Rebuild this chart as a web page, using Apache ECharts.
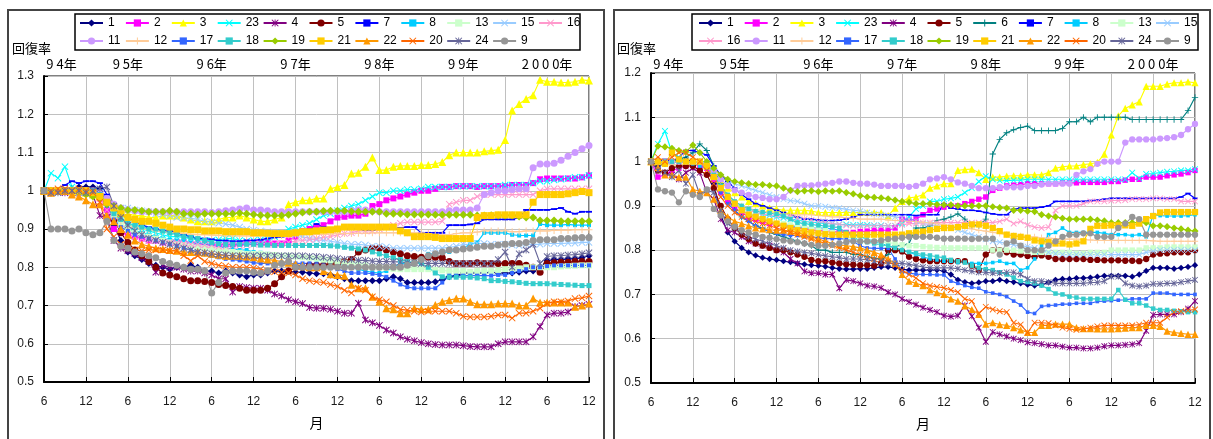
<!DOCTYPE html>
<html>
<head>
<meta charset="utf-8">
<script src="https://cdn.jsdelivr.net/npm/echarts@6/dist/echarts.min.js"></script>
<style>
html,body{margin:0;padding:0;background:#fff;}
#c{width:1213px;height:439px;}
</style>
</head>
<body>
<div id="c"></div>
<script>
// Tick labels
const monthTicks = ['6','12','6','12','6','12','6','12','6','12','6','12','6','12'];
const yTicksLeft = ['0.5','0.6','0.7','0.8','0.9','1','1.1','1.2','1.3'];
const yTicksRight = ['0.5','0.6','0.7','0.8','0.9','1','1.1','1.2'];
const yearLabels = ['9 4年','9 5年','9 6年','9 7年','9 8年','9 9年','2 0 0 0年'];
const yearAt = [2.5, 12, 24, 36, 48, 60, 72];   // month index under each year label

// Legend rows
const leftRow1 = ['1','2','3','23','4','5','7','8','13','15','16'];
const leftRow2 = ['11','12','17','18','19','21','22','20','24','9'];
const rightRow1 = ['1','2','3','23','4','5','6','7','8','13','15'];
const rightRow2 = ['16','11','12','17','18','19','21','22','20','24','9'];

// ---- left panel: monthly recovery ratios, Jun 1994 .. Dec 2000 (79 months) ----
const L_1 = [1,.995,1,1,1.005,1.01,1.01,
 1.01,1.005,.97,.91,.87,.84,.83,.82,.81,.805,.80,.795,
 .80,.80,.805,.80,.79,.79,.785,.79,.785,.78,.775,.78,
 .78,.785,.79,.79,.79,.787,.787,.785,.783,.783,.78,.775,
 .77,.765,.765,.765,.765,.765,.77,.775,.77,.76,.76,.76,
 .76,.762,.768,.775,.778,.785,.785,.785,.785,.787,.785,.785,
 .785,.787,.79,.79,.80,.817,.82,.82,.822,.822,.825,.83];
const L_2 = [1,1,1,1,1,.995,1,
 .995,.98,.95,.90,.89,.885,.88,.875,.87,.87,.865,.865,
 .865,.865,.86,.86,.86,.858,.858,.86,.86,.862,.865,.865,
 .865,.865,.862,.862,.87,.88,.895,.90,.905,.91,.92,.93,
 .932,.935,.935,.94,.96,.965,.975,.98,.985,.99,.995,1.0,
 1.0,1.005,1.01,1.01,1.012,1.012,1.012,1.01,1.012,1.012,1.012,1.012,
 1.015,1.015,1.015,1.02,1.03,1.032,1.032,1.032,1.032,1.032,1.035,1.04];
const L_3 = [1,1,1,1,1,1,.995,
 .99,.985,.975,.96,.95,.94,.935,.935,.93,.93,.935,.935,
 .935,.93,.925,.92,.92,.92,.925,.93,.93,.935,.93,.925,
 .92,.92,.925,.93,.965,.97,.975,.975,.98,.98,1.005,1.01,
 1.015,1.045,1.047,1.063,1.087,1.054,1.054,1.063,1.065,1.065,1.065,1.067,
 1.067,1.07,1.075,1.093,1.1,1.1,1.1,1.1,1.103,1.105,1.107,1.133,
 1.21,1.227,1.24,1.25,1.29,1.285,1.285,1.283,1.283,1.285,1.29,1.288];
const L_23 = [1,1.046,1.033,1.063,1.01,1.0,1.0,
 1.0,.995,.97,.95,.93,.915,.905,.90,.895,.89,.885,.88,
 .88,.878,.875,.872,.87,.87,.872,.875,.875,.87,.868,.87,
 .872,.875,.88,.89,.90,.905,.91,.915,.925,.935,.94,.948,
 .955,.96,.965,.975,.985,.995,.995,1.0,1.0,1.003,1.003,1.005,
 1.01,1.01,1.01,1.01,1.012,1.012,1.012,1.012,1.012,1.012,1.012,1.015,
 1.015,1.015,1.015,1.02,1.025,1.025,1.028,1.03,1.032,1.035,1.035,1.04];
const L_4 = [1,.995,1,.995,1,.995,1,
 .99,.935,.93,.87,.85,.843,.835,.825,.815,.787,.805,.80,
 .80,.795,.79,.79,.785,.78,.77,.77,.735,.75,.747,.745,
 .745,.74,.73,.725,.715,.71,.705,.695,.693,.693,.69,.685,
 .68,.68,.706,.662,.655,.648,.636,.628,.618,.612,.608,.603,
 .60,.598,.597,.597,.597,.595,.593,.592,.592,.592,.60,.605,
 .605,.605,.605,.618,.645,.675,.68,.68,.683,.697,.70,.703];
const L_5 = [1,1,1,1,1,1,1,
 1.0,.99,.97,.925,.89,.865,.845,.83,.815,.80,.785,.78,
 .775,.77,.765,.765,.763,.76,.755,.752,.75,.745,.74,.74,
 .74,.745,.757,.775,.79,.80,.80,.805,.805,.805,.81,.81,
 .815,.82,.84,.845,.85,.85,.845,.84,.835,.83,.828,.826,
 .826,.826,.825,.815,.81,.81,.81,.812,.81,.81,.81,.81,
 .81,.81,.805,.80,.787,.81,.812,.813,.813,.815,.815,.815];
const L_7 = [1,1.0,1.005,1.015,1.025,1.02,1.025,
 1.025,1.02,.99,.955,.935,.93,.92,.91,.905,.90,.895,.895,
 .89,.885,.88,.875,.875,.873,.87,.87,.868,.868,.87,.87,
 .872,.875,.878,.88,.883,.885,.887,.90,.913,.905,.90,.90,
 .90,.90,.90,.898,.898,.90,.90,.90,.903,.905,.905,.89,
 .89,.89,.89,.91,.91,.91,.912,.915,.925,.925,.925,.925,
 .925,.93,.95,.95,.95,.95,.952,.955,.945,.94,.945,.945];
const L_8 = [1,1,1,1,1,1,.995,
 .99,.985,.96,.93,.91,.90,.895,.89,.885,.88,.875,.872,
 .87,.868,.865,.862,.86,.858,.855,.85,.848,.845,.845,.84,
 .838,.835,.832,.83,.83,.828,.826,.824,.82,.818,.815,.81,
 .805,.80,.795,.79,.787,.785,.79,.80,.81,.81,.805,.82,
 .835,.835,.838,.84,.845,.85,.86,.865,.89,.89,.89,.89,
 .885,.883,.883,.883,.913,.91,.91,.91,.912,.91,.91,.91];
const L_13 = [1,1,1,1,1,1,1,
 .995,.99,.965,.935,.91,.90,.89,.885,.88,.875,.87,.865,
 .86,.858,.855,.852,.85,.848,.845,.843,.84,.838,.835,.835,
 .835,.833,.832,.83,.83,.828,.826,.825,.823,.82,.818,.815,
 .812,.81,.808,.805,.80,.80,.798,.796,.795,.795,.795,.795,
 .795,.793,.792,.79,.79,.79,.788,.79,.79,.79,.792,.795,
 .795,.797,.80,.80,.80,.80,.80,.802,.803,.804,.805,.805];
const L_15 = [1,1,1,1,1,.995,.995,
 .99,.985,.97,.96,.955,.955,.95,.948,.945,.94,.938,.935,
 .93,.93,.928,.925,.92,.918,.915,.913,.91,.905,.90,.897,
 .895,.893,.89,.89,.888,.885,.88,.875,.872,.87,.868,.865,
 .862,.86,.86,.858,.855,.855,.853,.85,.85,.85,.85,.85,
 .85,.85,.85,.852,.855,.86,.86,.862,.862,.86,.86,.86,
 .858,.857,.86,.86,.86,.862,.862,.862,.863,.863,.865,.865];
const L_16 = [1,1,1,1,1,1,.995,
 .99,.98,.95,.92,.90,.885,.88,.875,.87,.87,.865,.865,
 .865,.862,.86,.86,.858,.858,.855,.855,.856,.857,.858,.86,
 .86,.86,.86,.862,.865,.868,.87,.872,.875,.878,.88,.885,
 .888,.89,.895,.895,.895,.90,.905,.91,.915,.918,.918,.918,
 .918,.918,.92,.965,.97,.975,.975,.985,.99,.99,.99,.99,
 .99,.99,.99,.99,1.0,1.005,1.005,1.005,1.005,1.005,1.005,1.005];
const L_11 = [1,1,1,1,1,1,1,
 1.0,.995,.98,.965,.955,.95,.948,.945,.945,.945,.945,.945,
 .945,.945,.945,.945,.945,.943,.945,.948,.95,.952,.955,.95,
 .95,.948,.945,.945,.945,.945,.945,.945,.945,.945,.945,.945,
 .945,.948,.95,.95,.948,.945,.945,.945,.945,.945,.945,.945,
 .945,.945,.945,.948,.95,.95,.95,.955,.99,.995,1.0,1.0,
 1.003,1.005,1.005,1.06,1.07,1.07,1.072,1.08,1.09,1.1,1.11,1.118];
const L_12 = [1,1,1,1,1,1,1,
 .995,.99,.97,.94,.92,.91,.905,.90,.898,.895,.893,.89,
 .89,.888,.886,.885,.885,.884,.883,.882,.882,.882,.882,.882,
 .882,.882,.882,.883,.884,.885,.885,.885,.886,.886,.887,.888,
 .888,.888,.889,.889,.89,.89,.89,.89,.89,.89,.89,.89,
 .888,.886,.885,.885,.888,.89,.89,.892,.895,.895,.895,.895,
 .893,.893,.895,.895,.895,.895,.896,.897,.897,.898,.898,.898];
const L_17 = [1,1,1,1,1,1,1,
 1.0,.99,.96,.925,.905,.895,.885,.88,.875,.87,.865,.86,
 .855,.85,.845,.84,.835,.83,.826,.822,.82,.818,.815,.812,
 .81,.81,.808,.808,.808,.81,.81,.81,.808,.805,.80,.795,
 .79,.785,.785,.785,.783,.78,.775,.765,.755,.748,.745,.745,
 .745,.745,.76,.778,.778,.778,.778,.778,.778,.778,.78,.78,
 .785,.79,.795,.80,.80,.803,.805,.805,.805,.805,.805,.805];
const L_18 = [1,1,1,1,1,1,1,
 1.0,.99,.97,.94,.925,.915,.91,.905,.90,.90,.895,.89,
 .885,.88,.878,.875,.87,.865,.862,.86,.86,.86,.86,.86,
 .858,.858,.857,.857,.857,.857,.857,.857,.857,.857,.856,.855,
 .852,.85,.848,.845,.84,.835,.83,.825,.82,.815,.813,.81,
 .80,.785,.775,.774,.774,.774,.774,.772,.77,.765,.765,.763,
 .762,.76,.758,.757,.757,.757,.756,.755,.754,.753,.752,.752];
const L_19 = [1,1,1,1,1,.995,.99,
 .985,.98,.965,.96,.955,.95,.95,.948,.945,.945,.945,.948,
 .945,.94,.94,.938,.94,.94,.94,.94,.94,.942,.94,.938,
 .936,.935,.935,.935,.937,.94,.943,.945,.945,.947,.948,.948,
 .948,.946,.945,.945,.945,.945,.94,.94,.94,.938,.938,.938,
 .938,.937,.937,.937,.937,.937,.937,.935,.935,.936,.935,.935,
 .935,.933,.93,.93,.922,.922,.922,.92,.92,.92,.92,.92];
const L_21 = [1,1,1,1,1,1,1,
 .995,.985,.97,.955,.94,.93,.925,.92,.92,.915,.91,.905,
 .90,.90,.898,.898,.895,.895,.895,.893,.893,.893,.893,.89,
 .89,.889,.888,.888,.888,.89,.893,.893,.895,.897,.898,.90,
 .905,.905,.905,.905,.905,.905,.905,.905,.895,.89,.88,.88,
 .88,.878,.875,.875,.875,.875,.875,.93,.935,.935,.937,.937,
 .937,.937,.937,.97,.99,.99,.99,.99,.992,.995,.998,.995];
const L_22 = [1,.995,1,1,.99,.985,.975,
 .965,.965,.935,.92,.90,.885,.87,.86,.855,.85,.848,.845,
 .843,.84,.84,.84,.838,.835,.833,.83,.83,.83,.828,.826,
 .823,.82,.818,.815,.812,.808,.804,.80,.80,.79,.782,.78,
 .778,.754,.745,.745,.723,.71,.693,.69,.68,.68,.693,.69,
 .69,.701,.71,.714,.718,.718,.71,.703,.703,.703,.705,.705,
 .705,.70,.70,.718,.708,.708,.708,.708,.708,.697,.70,.705];
const L_20 = [1,1.0,1.005,1.005,1.0,1.005,1.0,
 .995,.97,.90,.88,.86,.85,.845,.843,.845,.845,.845,.843,
 .843,.83,.817,.83,.815,.81,.805,.803,.80,.80,.80,.798,
 .795,.79,.788,.787,.785,.78,.77,.765,.762,.76,.755,.75,
 .74,.733,.745,.74,.723,.715,.71,.70,.69,.688,.685,.683,
 .685,.685,.685,.685,.68,.672,.67,.67,.67,.672,.675,.675,
 .667,.68,.68,.685,.693,.705,.71,.71,.712,.718,.72,.725];
const L_24 = [1,.995,.995,1,1,1,.995,
 1.0,1.005,1.01,.96,.93,.91,.895,.885,.875,.87,.865,.86,
 .855,.85,.845,.84,.838,.835,.833,.832,.83,.83,.83,.83,
 .83,.83,.83,.83,.83,.83,.83,.828,.828,.826,.825,.823,
 .82,.82,.818,.818,.816,.815,.815,.814,.814,.812,.812,.81,
 .81,.81,.81,.81,.81,.81,.81,.81,.81,.81,.82,.84,
 .80,.835,.845,.86,.81,.828,.83,.83,.832,.833,.835,.838];
const L_9 = [1,.90,.90,.90,.895,.90,.89,
 .885,.89,.92,.87,.855,.85,.84,.835,.83,.825,.815,.81,
 .805,.80,.795,.795,.79,.733,.76,.785,.79,.79,.79,.787,
 .785,.79,.805,.81,.815,.80,.80,.80,.80,.80,.80,.80,
 .80,.80,.80,.80,.80,.80,.80,.80,.80,.805,.81,.82,
 .83,.835,.84,.845,.845,.848,.85,.852,.855,.855,.858,.86,
 .862,.862,.865,.87,.872,.872,.872,.875,.875,.877,.878,.878];

// ---- right panel ----
const R_1 = [1,.99,.995,1.0,1.0,1.005,1.0,
 1.0,.99,.95,.88,.84,.82,.805,.795,.788,.783,.78,.778,
 .775,.773,.77,.768,.766,.765,.763,.76,.758,.757,.757,.758,
 .758,.76,.762,.762,.76,.757,.755,.755,.755,.755,.755,.753,
 .745,.733,.728,.725,.727,.73,.73,.733,.73,.728,.725,.722,
 .72,.722,.727,.733,.735,.735,.737,.737,.738,.74,.742,.742,
 .742,.742,.74,.745,.753,.76,.76,.76,.758,.76,.762,.766];
const R_2 = [1,.965,.97,.98,.985,.99,.995,
 .99,.985,.96,.93,.91,.895,.885,.875,.87,.865,.86,.858,
 .855,.852,.85,.848,.845,.845,.843,.842,.84,.84,.84,.842,
 .843,.845,.845,.845,.85,.87,.868,.87,.88,.89,.893,.897,
 .90,.90,.905,.91,.915,.92,.935,.94,.945,.947,.948,.95,
 .95,.95,.95,.95,.952,.952,.952,.953,.953,.953,.953,.955,
 .955,.958,.96,.96,.965,.965,.965,.968,.97,.972,.975,.98];
const R_3 = [1,1,1,1,1.0,1.0,1.0,
 1.0,.99,.97,.955,.94,.93,.92,.91,.905,.90,.895,.893,
 .89,.89,.89,.89,.888,.885,.885,.885,.885,.885,.885,.885,
 .885,.885,.885,.878,.895,.91,.918,.92,.925,.94,.945,.95,
 .95,.98,.982,.983,.975,.96,.965,.965,.967,.968,.968,.97,
 .97,.97,.975,.985,.988,.99,.99,.993,.995,.998,1.017,1.06,
 1.103,1.12,1.128,1.135,1.17,1.17,1.17,1.175,1.178,1.178,1.18,1.178];
const R_23 = [1,1.04,1.069,1.02,1.01,1.0,1.0,
 1.0,.995,.97,.94,.92,.905,.895,.89,.885,.88,.878,.875,
 .873,.87,.868,.865,.863,.862,.86,.86,.858,.858,.857,.857,
 .857,.856,.856,.855,.855,.86,.875,.893,.90,.91,.91,.915,
 .917,.92,.93,.94,.955,.967,.96,.957,.957,.958,.958,.96,
 .96,.96,.96,.96,.96,.96,.96,.96,.96,.96,.96,.96,
 .96,.96,.975,.962,.972,.973,.975,.977,.978,.98,.98,.983];
const R_4 = [1,.98,.975,.97,.96,.975,.985,
 .975,.93,.915,.87,.845,.84,.83,.82,.815,.81,.81,.80,
 .795,.78,.77,.752,.748,.748,.745,.745,.714,.733,.73,.725,
 .72,.718,.715,.705,.70,.69,.683,.677,.67,.665,.66,.652,
 .65,.652,.675,.651,.625,.593,.615,.61,.605,.60,.597,.592,
 .59,.588,.585,.585,.582,.58,.58,.578,.578,.58,.583,.585,
 .585,.586,.587,.59,.618,.654,.655,.655,.655,.66,.668,.685];
const R_5 = [1,.98,.975,.985,.99,.99,.99,
 .98,.97,.94,.90,.87,.85,.835,.825,.815,.81,.805,.80,
 .80,.795,.79,.785,.778,.775,.775,.772,.77,.768,.767,.766,
 .766,.765,.77,.80,.80,.797,.785,.78,.777,.775,.775,.775,
 .775,.775,.775,.765,.755,.79,.80,.80,.795,.79,.79,.787,
 .785,.788,.785,.78,.78,.78,.78,.78,.778,.778,.777,.777,
 .777,.776,.776,.775,.78,.79,.792,.793,.795,.795,.795,.80];
const R_6 = [1,1.0,.995,1.0,1.005,1.01,1.02,
 1.04,1.025,.99,.95,.92,.89,.875,.865,.855,.85,.84,.835,
 .83,.825,.82,.815,.81,.80,.80,.795,.795,.795,.79,.79,
 .785,.782,.78,.79,.81,.81,.815,.85,.85,.855,.867,.87,
 .875,.882,.87,.855,.855,.87,1.017,1.05,1.065,1.072,1.077,1.08,
 1.07,1.07,1.07,1.07,1.075,1.09,1.09,1.1,1.09,1.1,1.1,1.1,
 1.1,1.1,1.095,1.095,1.095,1.095,1.095,1.095,1.095,1.095,1.115,1.145];
const R_7 = [1,1.0,1.005,1.0,1.01,1.025,1.025,
 1.02,1.015,.99,.97,.955,.94,.925,.915,.905,.90,.895,.89,
 .885,.88,.875,.87,.87,.868,.867,.867,.868,.87,.875,.88,
 .88,.88,.88,.88,.88,.88,.88,.878,.88,.88,.88,.905,
 .895,.893,.89,.89,.888,.885,.882,.88,.88,.892,.895,.895,
 .895,.897,.90,.91,.91,.91,.91,.91,.912,.913,.915,.917,
 .917,.917,.917,.917,.917,.917,.917,.917,.917,.92,.928,.917];
const R_8 = [1,1,1,1,1,1,.995,
 .99,.985,.965,.94,.92,.905,.895,.885,.875,.87,.865,.86,
 .858,.855,.852,.85,.85,.85,.85,.848,.845,.84,.835,.83,
 .825,.82,.815,.81,.805,.80,.795,.79,.785,.78,.778,.775,
 .775,.772,.772,.77,.77,.77,.772,.775,.77,.77,.755,.76,
 .78,.81,.835,.84,.85,.84,.84,.84,.84,.84,.838,.835,
 .835,.835,.833,.835,.83,.88,.878,.877,.877,.877,.878,.88];
const R_13 = [1,1,1,1,1,1,1,
 1.0,.99,.97,.94,.92,.905,.895,.885,.878,.87,.865,.86,
 .86,.857,.855,.853,.85,.848,.845,.84,.835,.83,.825,.82,
 .82,.82,.818,.817,.815,.812,.81,.81,.808,.807,.806,.805,
 .805,.805,.805,.805,.805,.805,.80,.80,.80,.80,.798,.797,
 .795,.795,.795,.795,.795,.795,.793,.793,.795,.795,.795,.80,
 .80,.80,.80,.80,.805,.805,.805,.807,.807,.807,.807,.807];
const R_15 = [1,1,1,1,1,1,1,
 1.0,.995,.98,.965,.955,.95,.945,.94,.935,.93,.925,.92,
 .915,.912,.91,.905,.90,.90,.898,.896,.895,.892,.89,.888,
 .885,.882,.88,.878,.875,.873,.87,.865,.86,.858,.855,.852,
 .85,.845,.84,.835,.83,.825,.82,.818,.815,.812,.81,.808,
 .805,.80,.795,.792,.79,.79,.79,.79,.79,.79,.79,.79,
 .79,.79,.79,.79,.795,.797,.80,.80,.80,.80,.80,.80];
const R_16 = [1,1,1,1,1,1,1,
 1.0,.99,.97,.94,.92,.905,.895,.89,.885,.882,.88,.878,
 .876,.875,.872,.87,.868,.865,.862,.86,.858,.856,.855,.855,
 .855,.855,.855,.855,.855,.857,.86,.86,.862,.862,.862,.862,
 .862,.862,.862,.862,.862,.862,.862,.865,.87,.86,.865,.857,
 .852,.85,.852,.89,.90,.90,.90,.905,.91,.91,.91,.912,
 .912,.913,.915,.915,.915,.917,.917,.915,.915,.91,.91,.91];
const R_11 = [1,1,1,1,1,1,1,
 1.0,.995,.98,.96,.945,.935,.93,.925,.92,.918,.915,.915,
 .92,.935,.945,.946,.946,.948,.95,.952,.955,.955,.952,.95,
 .95,.948,.945,.945,.945,.945,.943,.945,.95,.96,.962,.965,
 .96,.953,.95,.945,.94,.94,.94,.942,.942,.942,.942,.945,
 .945,.948,.95,.95,.95,.95,.97,.978,.983,.995,1.0,1.0,
 1.0,1.043,1.05,1.05,1.05,1.05,1.052,1.053,1.055,1.06,1.073,1.085];
const R_12 = [1,1,1,1,1,1,1,
 1.0,.99,.97,.945,.925,.91,.90,.895,.89,.887,.885,.883,
 .882,.88,.88,.88,.88,.878,.877,.875,.875,.873,.872,.87,
 .87,.87,.87,.868,.867,.866,.865,.865,.863,.862,.86,.858,
 .855,.852,.85,.848,.845,.843,.84,.838,.835,.833,.832,.83,
 .83,.828,.827,.826,.825,.825,.825,.824,.823,.822,.822,.822,
 .822,.822,.822,.822,.822,.821,.82,.82,.82,.82,.82,.82];
const R_17 = [1,1,1,1,1,1,1,
 1.0,.99,.965,.93,.905,.89,.875,.865,.855,.848,.842,.838,
 .835,.833,.833,.83,.83,.828,.826,.826,.826,.825,.82,.81,
 .805,.804,.804,.804,.78,.75,.748,.746,.745,.745,.744,.744,
 .73,.725,.72,.716,.714,.706,.703,.70,.695,.685,.676,.66,
 .657,.673,.675,.676,.678,.678,.68,.68,.68,.684,.685,.686,
 .687,.688,.69,.69,.69,.703,.703,.703,.70,.70,.70,.70];
const R_18 = [1,1,1,1,1,1,1,
 1.0,.99,.97,.945,.925,.91,.90,.893,.888,.886,.884,.882,
 .878,.87,.862,.86,.858,.856,.855,.853,.85,.84,.83,.82,
 .818,.815,.812,.81,.805,.80,.796,.793,.79,.788,.785,.783,
 .778,.775,.772,.765,.76,.757,.755,.75,.745,.738,.73,.728,
 .725,.72,.712,.702,.70,.695,.693,.69,.69,.69,.69,.69,
 .71,.688,.68,.68,.675,.668,.665,.665,.663,.662,.66,.66];
const R_19 = [1,1.035,1.033,1.03,1.025,1.022,1.037,
 1.02,1.0,.985,.97,.96,.955,.952,.95,.948,.948,.946,.945,
 .94,.935,.932,.934,.934,.932,.934,.933,.934,.93,.927,.923,
 .92,.919,.918,.916,.913,.91,.908,.905,.905,.905,.903,.902,
 .902,.90,.90,.90,.90,.90,.898,.896,.895,.89,.89,.888,
 .887,.88,.877,.875,.872,.87,.87,.87,.87,.868,.866,.862,
 .862,.862,.862,.862,.862,.855,.855,.853,.85,.848,.845,.843];
const R_21 = [1,1,.995,1.02,1.005,1.0,1.0,
 1.0,.99,.965,.94,.92,.905,.89,.88,.875,.87,.865,.86,
 .855,.85,.845,.843,.84,.838,.836,.835,.835,.835,.835,.835,
 .835,.835,.835,.835,.835,.835,.838,.84,.842,.845,.848,.85,
 .85,.852,.855,.858,.858,.855,.85,.843,.835,.832,.83,.828,
 .822,.82,.818,.815,.815,.813,.815,.82,.848,.855,.855,.856,
 .856,.856,.855,.86,.87,.877,.885,.886,.886,.886,.886,.886];
const R_22 = [1,.987,.97,.97,.965,.965,.937,
 .933,.93,.915,.89,.875,.865,.86,.855,.85,.848,.846,.845,
 .845,.843,.84,.835,.83,.825,.82,.815,.812,.81,.808,.805,
 .80,.795,.79,.78,.77,.745,.73,.725,.72,.71,.704,.70,
 .69,.685,.674,.666,.655,.633,.636,.632,.63,.625,.62,.614,
 .614,.63,.63,.633,.633,.633,.625,.623,.623,.622,.622,.622,
 .623,.624,.625,.625,.63,.63,.628,.617,.614,.612,.61,.61];
const R_20 = [1,1.01,1.0,1.01,1.02,1.02,1.01,
 1.0,.98,.95,.92,.90,.885,.875,.87,.865,.86,.855,.85,
 .845,.84,.835,.83,.825,.82,.815,.81,.805,.80,.795,.79,
 .785,.78,.78,.775,.765,.755,.745,.737,.725,.72,.717,.715,
 .71,.705,.69,.685,.657,.672,.666,.662,.66,.636,.632,.614,
 .636,.636,.635,.63,.625,.622,.62,.622,.625,.628,.63,.63,
 .63,.63,.63,.632,.636,.636,.636,.648,.66,.662,.664,.666];
const R_24 = [1,.98,.975,.965,.98,.95,.97,
 .925,.935,.93,.89,.86,.85,.84,.83,.825,.82,.815,.81,
 .805,.80,.797,.795,.793,.79,.787,.785,.783,.78,.78,.78,
 .778,.775,.773,.77,.77,.77,.768,.765,.762,.76,.76,.76,
 .76,.758,.755,.752,.75,.75,.748,.748,.75,.75,.745,.735,
 .73,.73,.728,.725,.725,.725,.725,.725,.727,.727,.73,.74,
 .74,.725,.72,.718,.72,.724,.724,.725,.725,.728,.73,.733];
const R_9 = [1,.937,.933,.93,.908,.933,.925,
 .92,.937,.893,.878,.865,.853,.845,.84,.835,.83,.828,.825,
 .822,.82,.818,.815,.812,.81,.81,.812,.815,.818,.82,.82,
 .82,.82,.822,.825,.826,.828,.83,.83,.83,.83,.828,.826,
 .826,.826,.826,.825,.826,.826,.826,.79,.815,.82,.81,.80,
 .80,.80,.81,.82,.83,.835,.835,.838,.838,.83,.83,.83,
 .85,.86,.875,.87,.835,.835,.835,.835,.835,.835,.835,.835];

// Series lists in drawing / legend order
const leftSeries = [['1',L_1],['2',L_2],['3',L_3],['23',L_23],['4',L_4],['5',L_5],['7',L_7],['8',L_8],
  ['13',L_13],['15',L_15],['16',L_16],['11',L_11],['12',L_12],['17',L_17],['18',L_18],['19',L_19],
  ['21',L_21],['22',L_22],['20',L_20],['24',L_24],['9',L_9]];
const rightSeries = [['1',R_1],['2',R_2],['3',R_3],['23',R_23],['4',R_4],['5',R_5],['6',R_6],['7',R_7],['8',R_8],
  ['13',R_13],['15',R_15],['16',R_16],['11',R_11],['12',R_12],['17',R_17],['18',R_18],['19',R_19],
  ['21',R_21],['22',R_22],['20',R_20],['24',R_24],['9',R_9]];

// Marker shapes
const SYM = {
  diamond: 'diamond', rect: 'rect', triangle: 'triangle', circle: 'circle',
  cross: 'path://M0,1L1,0L5,4L9,0L10,1L6,5L10,9L9,10L5,6L1,10L0,9L4,5Z',
  star: 'path://M0,1L1,0L5,4L9,0L10,1L6,5L10,9L9,10L5,6L1,10L0,9L4,5ZM4.4,0H5.6V10H4.4Z',
  plus: 'path://M4.3,0H5.7V4.3H10V5.7H5.7V10H4.3V5.7H0V4.3H4.3Z',
  dash: 'path://M0,0H10V3H0Z'
};
// colour, marker, marker size
const STYLE = {
  '1':['#000080','diamond',7], '2':['#FF00FF','rect',6], '3':['#FFFF00','triangle',8],
  '23':['#00FFFF','cross',7], '4':['#800080','star',7], '5':['#800000','circle',7],
  '6':['#008080','plus',7], '7':['#0000FF','dash',6], '8':['#00CCFF','rect',4],
  '13':['#CCFFCC','rect',6], '15':['#99CCFF','cross',7], '16':['#FF99CC','cross',7],
  '11':['#CC99FF','circle',7], '12':['#FFCC99','plus',7], '17':['#3366FF','rect',4],
  '18':['#33CCCC','rect',5], '19':['#99CC00','diamond',8], '21':['#FFCC00','rect',7],
  '22':['#FF9900','triangle',8], '20':['#FF6600','cross',7], '24':['#666699','star',7],
  '9':['#969696','circle',7]
};

const FONT = '"Liberation Sans", Arial, sans-serif';
const CJK = '"Noto Sans CJK JP", sans-serif';

function lineSeries(list, gi, scale) {
  return list.map(([name, vals]) => {
    const st = STYLE[name];
    return {
      type: 'line', name, xAxisIndex: gi, yAxisIndex: gi,
      data: vals.map((v, i) => [i, v]),
      symbol: SYM[st[1]], symbolSize: st[2] * scale, symbolKeepAspect: true, showAllSymbol: true,
      lineStyle: {color: st[0], width: 1.15},
      itemStyle: {color: st[0], borderWidth: 0},
      emphasis: {disabled: true}, animation: false
    };
  });
}

function xAxisCfg(gi) {
  return {
    gridIndex: gi, type: 'value', min: 0, max: 78, interval: 6,
    axisLine: {show: true, onZero: false, lineStyle: {color: '#000', width: 2}},
    axisTick: {show: true, inside: true, length: 5, lineStyle: {color: '#000'}},
    axisLabel: {margin: 14, color: '#1a1a1a', fontSize: 12, fontFamily: FONT,
      formatter: v => monthTicks[Math.round(v / 6)]},
    splitLine: {show: true, lineStyle: {color: '#c0c0c0', width: 1}},
    name: '月', nameLocation: 'middle', nameGap: 34,
    nameTextStyle: {fontFamily: CJK, fontSize: 14, color: '#000'}
  };
}
function yAxisCfg(gi, max, ticks) {
  return {
    gridIndex: gi, type: 'value', min: 0.5, max: max, interval: 0.1,
    axisLine: {show: true, onZero: false, lineStyle: {color: '#000', width: 2}},
    axisTick: {show: true, inside: true, length: 4, lineStyle: {color: '#000'}},
    axisLabel: {margin: 10, color: '#1a1a1a', fontSize: 12, fontFamily: FONT,
      formatter: v => ticks[Math.round((v - 0.5) / 0.1)]},
    splitLine: {show: true, lineStyle: {color: '#c0c0c0', width: 1}}
  };
}
// One legend component per entry so that entries sit in fixed-width columns
function legendRow(names, left, top, pitch) {
  return names.map((n, k) => ({
    data: [n], left: left + k * pitch, top: top, orient: 'horizontal', padding: 0,
    itemWidth: 23, itemHeight: 9, selectedMode: false,
    textStyle: {fontSize: 12, fontFamily: FONT, color: '#000'}
  }));
}

const chart = echarts.init(document.getElementById('c'), null, {renderer: 'canvas'});
chart.setOption({
  animation: false,
  backgroundColor: '#fff',
  grid: [
    {left: 44, top: 76, width: 545, height: 306, show: true, borderColor: '#000', borderWidth: 1},
    {left: 651, top: 73, width: 544, height: 310, show: true, borderColor: '#000', borderWidth: 1}
  ],
  xAxis: [xAxisCfg(0), xAxisCfg(1)],
  yAxis: [yAxisCfg(0, 1.3, yTicksLeft), yAxisCfg(1, 1.2, yTicksRight)],
  legend: [].concat(
    legendRow(leftRow1, 79, 17, 45.9), legendRow(leftRow2, 79, 35, 45.9),
    legendRow(rightRow1, 698, 17, 45.7), legendRow(rightRow2, 698, 35, 45.7)),
  series: lineSeries(leftSeries, 0, 1).concat(lineSeries(rightSeries, 1, 0.9))
});

// Frames, legend boxes, axis title and year captions
const g = [
  {type: 'rect', shape: {x: 8, y: 10, width: 596, height: 440}, style: {fill: 'none', stroke: '#444', lineWidth: 2}, silent: true},
  {type: 'rect', shape: {x: 614, y: 10, width: 596, height: 440}, style: {fill: 'none', stroke: '#444', lineWidth: 2}, silent: true},
  {type: 'rect', shape: {x: 75, y: 14, width: 505, height: 36}, style: {fill: 'none', stroke: '#000', lineWidth: 1.5}, silent: true},
  {type: 'rect', shape: {x: 692, y: 14, width: 506, height: 36}, style: {fill: 'none', stroke: '#000', lineWidth: 1.5}, silent: true},
  {type: 'text', x: 12, y: 48, style: {text: '回復率', font: '13px ' + CJK, fill: '#000', verticalAlign: 'middle'}, silent: true},
  {type: 'text', x: 617, y: 48, style: {text: '回復率', font: '13px ' + CJK, fill: '#000', verticalAlign: 'middle'}, silent: true}
];
[0, 1].forEach(gi => {
  yearLabels.forEach((t, k) => {
    const p = chart.convertToPixel({gridIndex: gi}, [yearAt[k], 1]);
    g.push({type: 'text', x: p[0], y: 64,
      style: {text: t, font: '13px ' + CJK, fill: '#000', align: 'center', verticalAlign: 'middle'}, silent: true});
  });
});
chart.setOption({graphic: g});
</script>
</body>
</html>
